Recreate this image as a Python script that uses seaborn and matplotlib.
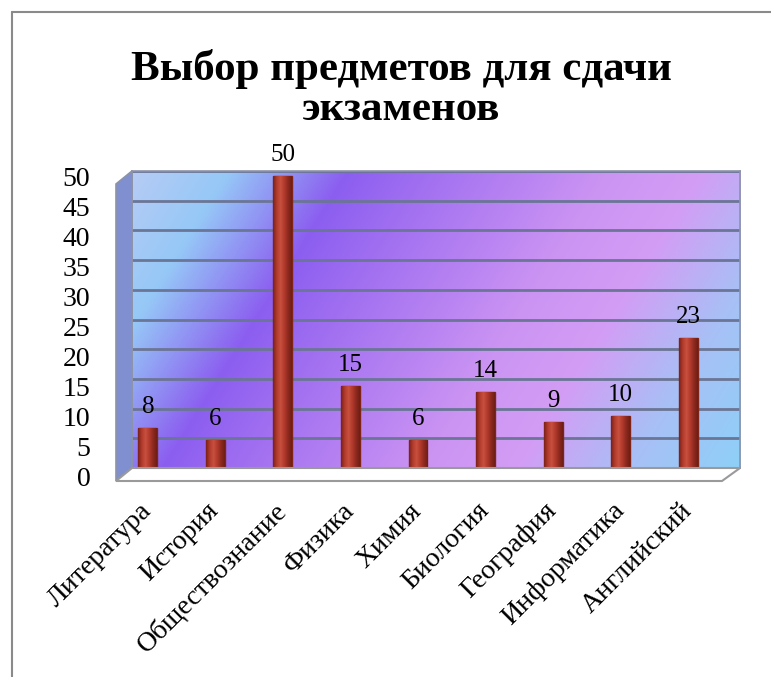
import numpy as np
import pandas as pd
import matplotlib
matplotlib.use("Agg")
import matplotlib.pyplot as plt
import matplotlib.transforms as mtransforms
from matplotlib.patches import Polygon
from matplotlib.lines import Line2D
from matplotlib.colors import LinearSegmentedColormap
import seaborn as sns

categories = ["Литература", "История", "Обществознание", "Физика", "Химия",
              "Биология", "География", "Информатика", "Английский"]
values = [8, 6, 50, 15, 6, 14, 9, 10, 23]
y_ticks = list(range(0, 55, 5))
title_lines = ["Выбор предметов для сдачи", "экзаменов"]

sns.set_theme(style="white")
plt.rcParams["font.family"] = ["Liberation Serif", "DejaVu Serif"]
plt.rcParams["text.color"] = "black"
plt.rcParams["xtick.color"] = "black"
plt.rcParams["ytick.color"] = "black"

W, H = 771, 677
fig = plt.figure(figsize=(W / 100, H / 100), dpi=100)
fig.patch.set_facecolor("white")

def fx(px):
    return px / W

def fy(py):
    return 1 - py / H

# back wall with gradient and gridlines
ax_wall = fig.add_axes([fx(132), fy(468), fx(740) - fx(132), fy(171) - fy(468)])
ax_wall.set_xlim(0, 1)
ax_wall.set_ylim(0, 50)
nx, ny = 400, 250
xx, yy = np.meshgrid(np.linspace(0, 1, nx), np.linspace(0, 1, ny))
t = 0.767 * xx + 0.233 * yy
cmap = LinearSegmentedColormap.from_list(
    "wall",
    [(0.0, "#b6ccf5"), (0.12, "#96c8f7"), (0.27, "#8c5ef0"), (0.4, "#a674f1"),
     (0.6, "#cb94f3"), (0.72, "#d39df5"), (0.86, "#a8c0f5"), (1.0, "#8ed0f8")])
ax_wall.imshow(t, cmap=cmap, extent=[0, 1, 0, 50], origin="upper", aspect="auto", zorder=0)
for v in y_ticks[1:]:
    ax_wall.axhline(v, color="#6b7595", lw=2, zorder=1)
ax_wall.set_xticks([])
ax_wall.set_yticks([])
for s in ax_wall.spines.values():
    s.set_color("#8c93a8")
    s.set_linewidth(1.2)

# side wall and floor
side = Polygon([(fx(116), fy(481)), (fx(132), fy(468)), (fx(132), fy(171)), (fx(116), fy(184))],
               closed=True, transform=fig.transFigure, facecolor="#7f8fcf",
               edgecolor="#8c93a8", lw=1.2, zorder=1)
fig.add_artist(side)
floor = Polygon([(fx(116), fy(481)), (fx(722), fy(481)), (fx(740), fy(468)), (fx(132), fy(468))],
                closed=True, transform=fig.transFigure, facecolor="white",
                edgecolor="#9a9a9a", lw=1.5, zorder=1)
fig.add_artist(floor)

# main axes with bars
ax = fig.add_axes([fx(114), fy(476), fx(722) - fx(114), fy(175) - fy(476)])
ax.patch.set_alpha(0)
df = pd.DataFrame({"subject": categories, "count": values})
sns.barplot(data=df, x="subject", y="count", ax=ax, color="#b23a2c",
            width=0.28, saturation=1, edgecolor="#7e2418", linewidth=1.0)
ax.set_ylim(0, 50.2)
ax.set_xlim(-0.5, len(categories) - 0.5)

# cylindrical shading clipped to each bar drawn by seaborn
shade = LinearSegmentedColormap.from_list(
    "cyl", ["#7a2218", "#b33b2d", "#c8503f", "#b23a2c", "#8e2a1e", "#6e1e15"])
grad = np.linspace(0, 1, 64).reshape(1, -1)
for patch in ax.patches:
    x0, y0 = patch.get_x(), patch.get_y()
    w, h = patch.get_width(), patch.get_height()
    im = ax.imshow(grad, cmap=shade, extent=[x0, x0 + w, y0, y0 + h],
                   aspect="auto", zorder=patch.get_zorder() + 0.1, interpolation="bilinear")
    im.set_clip_path(patch)
ax.set_xlim(-0.5, len(categories) - 0.5)
ax.set_ylim(0, 50.2)
ax.set_aspect("auto")

ax.set_yticks(y_ticks)
ax.set_yticklabels([str(v) for v in y_ticks], fontsize=20)
ax.tick_params(axis="y", length=0, pad=17)
ax.tick_params(axis="x", length=0, pad=16)
ax.set_xticks(range(len(categories)))
ax.set_xticklabels(categories, rotation=45, ha="right", rotation_mode="anchor", fontsize=20)
offset = mtransforms.ScaledTranslation(-9 / 100, 0, fig.dpi_scale_trans)
for lab in ax.get_xticklabels():
    lab.set_transform(lab.get_transform() + offset)
ax.set_xlabel("")
ax.set_ylabel("")
for s in ax.spines.values():
    s.set_visible(False)
ax.bar_label(ax.containers[0], labels=[str(v) for v in values], padding=7, fontsize=18)

fig.text(fx(401), fy(80), title_lines[0], fontsize=31, fontweight="bold", ha="center", va="baseline")
fig.text(fx(401), fy(120), title_lines[1], fontsize=31, fontweight="bold", ha="center", va="baseline")

# outer border
fig.add_artist(Line2D([fx(12), fx(12)], [fy(12), 0], transform=fig.transFigure, color="#8a8a8a", lw=1.5))
fig.add_artist(Line2D([fx(12), 1], [fy(12), fy(12)], transform=fig.transFigure, color="#8a8a8a", lw=1.5))

fig.savefig("out.png", dpi=100)
